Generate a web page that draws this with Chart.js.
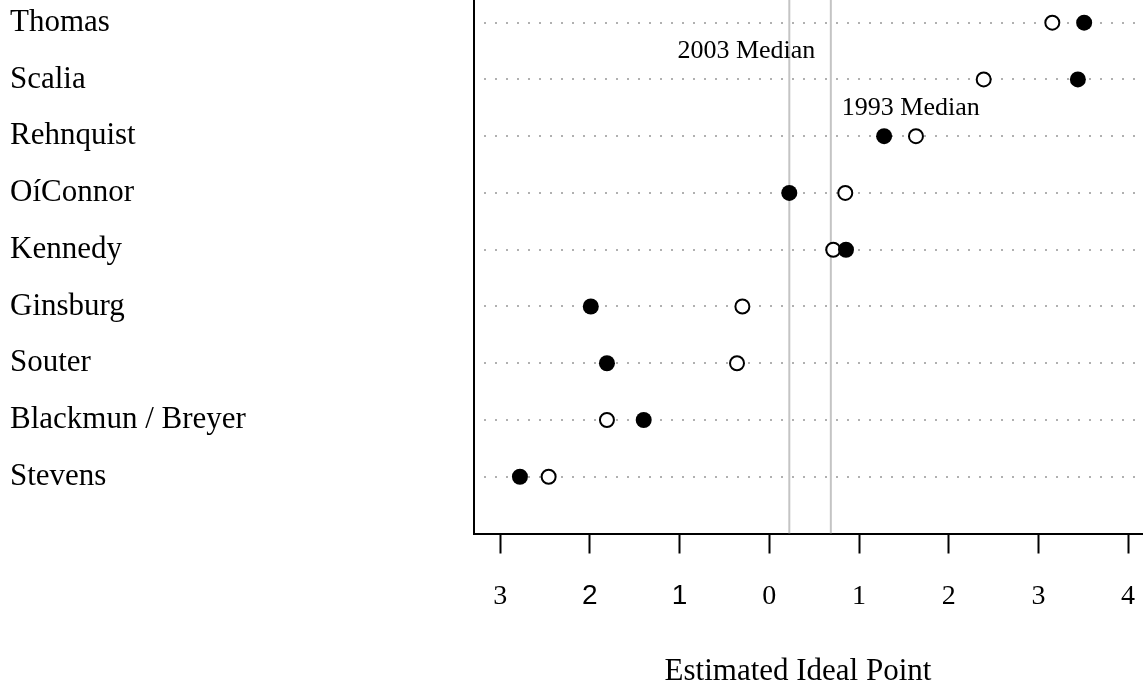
<!DOCTYPE html>
<html>
<head>
<meta charset="utf-8">
<script src="https://cdn.jsdelivr.net/npm/chart.js@4.4.0/dist/chart.umd.min.js"></script>
<style>
  body { margin: 0; background: #fff; }
  #wrap { width: 1143px; height: 684px; }
</style>
</head>
<body>
<div id="wrap"><canvas id="idealChart" width="1143" height="684"></canvas></div>
<script>
// Justices, bottom row first (row 1 = Stevens)
const justices = ['Stevens', 'Blackmun / Breyer', 'Souter', 'Ginsburg', 'Kennedy',
                  'OíConnor', 'Rehnquist', 'Scalia', 'Thomas'];

// Estimated ideal points (filled = 2003, open = 1993)
const ideal2003 = [-2.78, -1.40, -1.81, -1.99, 0.855, 0.223, 1.28, 3.44, 3.51];
const ideal1993 = [-2.46, -1.81, -0.36, -0.30, 0.713, 0.847, 1.635, 2.39, 3.155];

// Court medians
const median2003 = 0.223;
const median1993 = 0.686;

// x axis ticks (the picture shows them without minus signs)
const xTickValues = [-3, -2, -1, 0, 1, 2, 3, 4];
const xTickLabels = ['3', '2', '1', '0', '1', '2', '3', '4'];

const rows = justices.map((_, i) => i + 1);
const serif = '"Liberation Serif", "Times New Roman", serif';
const sans = '"Liberation Sans", Arial, sans-serif';

// Text annotations: median labels and the axis title
const annotations = {
    id: 'annotations',
    afterDraw(chart) {
        const ctx = chart.ctx;
        const xs = chart.scales.x;
        const ys = chart.scales.y;
        ctx.save();
        ctx.fillStyle = '#000';
        ctx.textBaseline = 'alphabetic';
        ctx.font = '26px ' + serif;
        ctx.textAlign = 'right';
        ctx.fillText('2003 Median', xs.getPixelForValue(median2003) + 26, ys.getPixelForValue(8.38));
        ctx.textAlign = 'left';
        ctx.fillText('1993 Median', xs.getPixelForValue(median1993) + 11, ys.getPixelForValue(7.37));
        ctx.font = '31px ' + serif;
        ctx.textAlign = 'center';
        ctx.fillText('Estimated Ideal Point', 798, 680);
        ctx.restore();
    }
};

const ctx = document.getElementById('idealChart').getContext('2d');
new Chart(ctx, {
    type: 'scatter',
    data: {
        datasets: [
            {
                label: '2003',
                data: ideal2003.map((v, i) => ({ x: v, y: rows[i] })),
                pointRadius: 8,
                pointBackgroundColor: '#000',
                pointBorderColor: '#000',
                pointBorderWidth: 0
            },
            {
                label: '1993',
                data: ideal1993.map((v, i) => ({ x: v, y: rows[i] })),
                pointRadius: 7,
                pointBackgroundColor: '#fff',
                pointBorderColor: '#000',
                pointBorderWidth: 2
            },
            {
                label: '2003 Median',
                type: 'line',
                data: [{ x: median2003, y: 0 }, { x: median2003, y: 9.4 }],
                borderColor: '#c4c4c4',
                borderWidth: 2,
                pointRadius: 0
            },
            {
                label: '1993 Median',
                type: 'line',
                data: [{ x: median1993, y: 0 }, { x: median1993, y: 9.4 }],
                borderColor: '#c4c4c4',
                borderWidth: 2,
                pointRadius: 0
            }
        ]
    },
    options: {
        responsive: false,
        animation: false,
        devicePixelRatio: 1,
        // the plot runs off the top and right edges of the picture
        layout: { autoPadding: false, padding: { left: 10, right: 0, top: 0, bottom: 0 } },
        plugins: {
            legend: { display: false },
            tooltip: { enabled: false }
        },
        scales: {
            x: {
                type: 'linear',
                min: -3.292,
                max: 4.166,
                afterBuildTicks: scale => {
                    scale.ticks = xTickValues.map(v => ({ value: v }));
                },
                afterFit: scale => {
                    scale.height = 150.5;
                    scale.paddingLeft = 0;
                    scale.paddingRight = 0;
                },
                border: { display: true, color: '#000', width: 2 },
                grid: {
                    drawOnChartArea: false,
                    drawTicks: true,
                    tickLength: 20,
                    tickWidth: 2,
                    tickColor: '#000'
                },
                ticks: {
                    padding: 26,
                    color: '#000',
                    maxRotation: 0,
                    autoSkip: false,
                    callback: (value) => xTickLabels[xTickValues.indexOf(value)],
                    // the -2 and -1 labels are set in a sans face in the picture
                    font: c => ({
                        family: (c.tick && (c.tick.value === -2 || c.tick.value === -1)) ? sans : serif,
                        size: 28
                    })
                }
            },
            y: {
                type: 'linear',
                min: 0,
                max: 9.4,
                afterBuildTicks: scale => {
                    scale.ticks = rows.map(v => ({ value: v }));
                },
                afterFit: scale => {
                    scale.width = 464;
                    scale.paddingTop = 0;
                    scale.paddingBottom = 0;
                },
                // in v4 the dash of the grid lines comes from border.dash
                border: { display: true, color: '#000', width: 2, dash: [2, 9], dashOffset: -9 },
                grid: {
                    drawTicks: false,
                    color: '#b0b0b0',
                    lineWidth: 2
                },
                ticks: {
                    crossAlign: 'far',
                    color: '#000',
                    autoSkip: false,
                    font: { family: serif, size: 31 },
                    callback: (value) => justices[value - 1]
                }
            }
        }
    },
    plugins: [annotations]
});
</script>
</body>
</html>
